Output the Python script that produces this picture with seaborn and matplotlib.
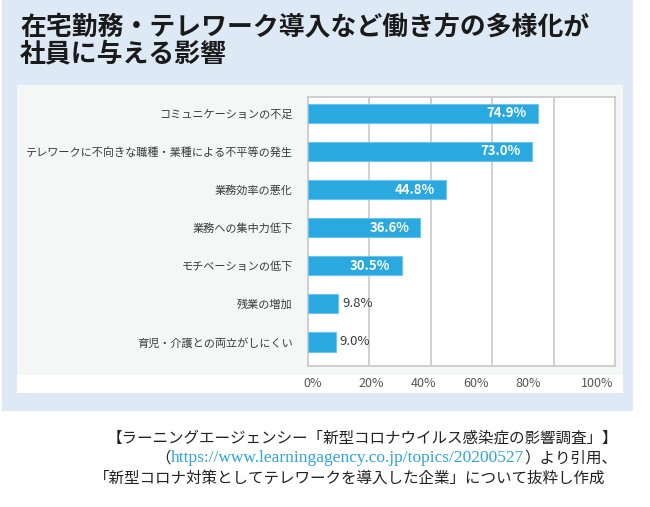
import matplotlib
matplotlib.use('Agg')
import matplotlib.pyplot as plt
from matplotlib.patches import Rectangle
import seaborn as sns
import pandas as pd

# データ
categories = ['コミュニケーションの不足',
              'テレワークに不向きな職種・業種による不平等の発生',
              '業務効率の悪化',
              '業務への集中力低下',
              'モチベーションの低下',
              '残業の増加',
              '育児・介護との両立がしにくい']
values = [74.9, 73.0, 44.8, 36.6, 30.5, 9.8, 9.0]
tick_labels = ['0%', '20%', '40%', '60%', '80%', '100%']
grid_pos = [20, 40, 60, 80]

title_lines = ['在宅勤務・テレワーク導入など働き方の多様化が', '社員に与える影響']
source_1 = '【ラーニングエージェンシー「新型コロナウイルス感染症の影響調査」】'
source_url = 'https://www.learningagency.co.jp/topics/20200527'
source_2 = '）より引用、'
source_3 = '「新型コロナ対策としてテレワークを導入した企業」について抜粋し作成'

df = pd.DataFrame({'item': categories, 'pct': values})

sns.set_style('white')
plt.rcParams['font.family'] = ['Noto Sans CJK JP', 'DejaVu Sans']

W, H = 650, 507
fig = plt.figure(figsize=(W / 100, H / 100), dpi=100)
fig.patch.set_facecolor('white')


def fx(px):
    return px / W


def fy(py):
    return 1 - py / H


# 背景パネル
fig.add_artist(Rectangle((fx(2), fy(411)), fx(631), 411 / H, transform=fig.transFigure,
                         facecolor='#dde9f5', edgecolor='none', zorder=-3))
fig.add_artist(Rectangle((fx(17), fy(393)), fx(606), 308 / H, transform=fig.transFigure,
                         facecolor='#f5f7f7', edgecolor='none', zorder=-2))
fig.add_artist(Rectangle((fx(17), fy(393)), fx(606), 18 / H, transform=fig.transFigure,
                         facecolor='white', edgecolor='none', zorder=-1))

# タイトル
fig.text(fx(20), fy(27), title_lines[0], fontsize=18.6, fontweight='bold', color='#1a1a1a', va='center')
fig.text(fx(20), fy(54), title_lines[1], fontsize=18.6, fontweight='bold', color='#1a1a1a', va='center')

# 棒グラフ
ax = fig.add_axes([fx(308), fy(366), fx(307), 269 / H])
ax.set_facecolor('white')
sns.barplot(data=df, x='pct', y='item', orient='h', color='#29a9e0', saturation=1,
            width=0.5, edgecolor='#6cc5ee', linewidth=0.8, ax=ax, zorder=3)

ax.set_xlim(0, 100)
ax.set_ylim(6.63, -0.43)
for g in grid_pos:
    ax.axvline(g, color='#c8c8c8', lw=1.2, zorder=1)
for s in ax.spines.values():
    s.set_visible(True)
    s.set_color('#c8c8c8')
    s.set_linewidth(1.2)

# 目盛りラベル（元図の位置どおり）
tick_label_pos = [1.6, 20.5, 37.5, 54.7, 71.7, 94.1]
ax.set_xticks(tick_label_pos)
ax.set_xticklabels(tick_labels, fontsize=9, color='#555555')
ax.tick_params(axis='x', length=0, pad=8)
ax.tick_params(axis='y', length=0, pad=11, labelsize=8, labelcolor='#3a3a3a')
ax.set_xlabel('')
ax.set_ylabel('')

# 値ラベル
for i, v in enumerate(values):
    if v >= 20:
        ax.annotate(f'{v:.1f}%', (v, i), xytext=(-8, 0), textcoords='offset points',
                    ha='right', va='center', fontsize=9.5, fontweight='bold', color='white', zorder=5)
    else:
        ax.annotate(f'{v:.1f}%', (v, i), xytext=(3, 0), textcoords='offset points',
                    ha='left', va='center', fontsize=9.5, color='#3a3a3a', zorder=5)

# 出典
fs = 11.2
fig.text(fx(618), fy(438), source_1, fontsize=fs, color='#222222', ha='right', va='center')
fig.text(fx(605), fy(478), source_3, fontsize=fs, color='#222222', ha='right', va='center')
t2 = fig.text(fx(617), fy(458), source_2, fontsize=fs, color='#222222', ha='right', va='center')
fig.canvas.draw()
r = fig.canvas.get_renderer()
x0 = t2.get_window_extent(r).x0 / W
tu = fig.text(x0, fy(458), source_url, fontsize=12.5, family=['Liberation Serif'],
              color='#2ea3de', ha='right', va='center')
fig.canvas.draw()
x1 = tu.get_window_extent(r).x0 / W
fig.text(x1, fy(458), '（', fontsize=fs, color='#222222', ha='right', va='center')

fig.savefig('out.png', dpi=100)
